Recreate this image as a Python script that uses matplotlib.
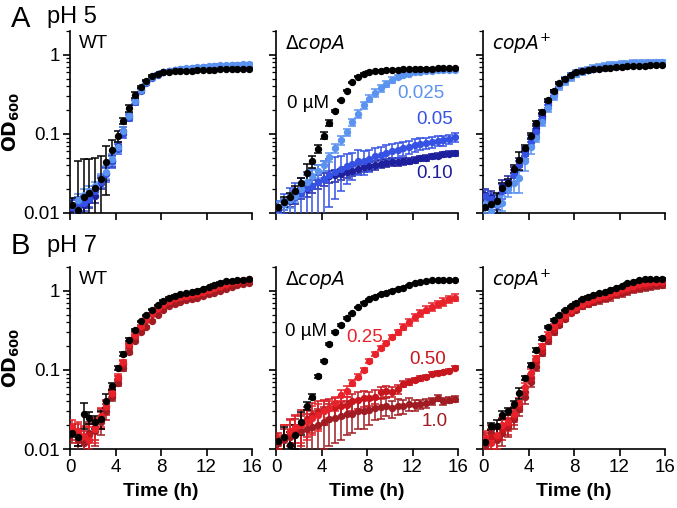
import matplotlib
matplotlib.use("Agg")
import matplotlib.pyplot as plt
from matplotlib.ticker import LogLocator, NullFormatter, FixedLocator

plt.rcParams['font.family'] = ['Liberation Sans', 'DejaVu Sans']

# sampling times (h)
time_h = [0.2, 0.7, 1.2, 1.7, 2.2, 2.7, 3.2, 3.7, 4.2, 4.7, 5.2, 5.7, 6.2, 6.7, 7.2, 7.7,
          8.2, 8.7, 9.2, 9.7, 10.2, 10.7, 11.2, 11.7, 12.2, 12.7, 13.2, 13.7, 14.2, 14.7, 15.2, 15.7]

# ---------------- pH 5 ----------------
wt5_0 = [0.0125, 0.011, 0.016, 0.018, 0.021, 0.027, 0.044, 0.063, 0.095, 0.145, 0.21, 0.31, 0.39, 0.47, 0.54, 0.57,
         0.60, 0.61, 0.62, 0.62, 0.63, 0.63, 0.64, 0.64, 0.65, 0.65, 0.66, 0.66, 0.66, 0.67, 0.67, 0.67]
wt5_0_err = [0.003, 0.034, 0.032, 0.030, 0.028, 0.026, 0.027, 0.020, 0.015, 0.012, 0.020, 0.025, 0.01, 0.01, 0.01, 0.01,
             0.01, 0.01, 0.01, 0.01, 0.01, 0.01, 0.01, 0.01, 0.01, 0.01, 0.01, 0.01, 0.01, 0.01, 0.01, 0.01]
wt5_lo = [0.0125, 0.0145, 0.017, 0.019, 0.022, 0.027, 0.033, 0.048, 0.068, 0.11, 0.17, 0.26, 0.36, 0.45, 0.52, 0.57,
          0.61, 0.63, 0.65, 0.67, 0.68, 0.69, 0.70, 0.71, 0.72, 0.73, 0.74, 0.74, 0.75, 0.75, 0.76, 0.76]
wt5_mid = [0.012, 0.013, 0.0135, 0.015, 0.019, 0.025, 0.031, 0.045, 0.065, 0.10, 0.16, 0.25, 0.35, 0.44, 0.51, 0.56,
           0.60, 0.63, 0.65, 0.66, 0.67, 0.68, 0.69, 0.70, 0.71, 0.72, 0.73, 0.73, 0.74, 0.74, 0.75, 0.75]
wt5_hi = [0.0115, 0.0105, 0.0125, 0.0145, 0.0165, 0.024, 0.032, 0.046, 0.07, 0.11, 0.17, 0.26, 0.36, 0.45, 0.52, 0.57,
          0.60, 0.62, 0.64, 0.65, 0.66, 0.67, 0.68, 0.69, 0.70, 0.70, 0.71, 0.71, 0.72, 0.72, 0.73, 0.73]
wt5_c_err = [0.003, 0.003, 0.003, 0.003, 0.003, 0.004, 0.006, 0.008, 0.010, 0.012, 0.015, 0.02, 0.02, 0.02, 0.02, 0.02,
             0.02, 0.02, 0.02, 0.02, 0.02, 0.02, 0.02, 0.02, 0.02, 0.02, 0.02, 0.02, 0.02, 0.02, 0.02, 0.02]

dc5_0 = [0.0118, 0.0138, 0.016, 0.019, 0.024, 0.032, 0.045, 0.065, 0.095, 0.138, 0.194, 0.265, 0.35, 0.45, 0.53, 0.58,
         0.61, 0.62, 0.63, 0.64, 0.645, 0.65, 0.655, 0.66, 0.66, 0.665, 0.67, 0.67, 0.675, 0.675, 0.68, 0.68]
dc5_0_err = [0.001, 0.002, 0.002, 0.003, 0.004, 0.010, 0.008, 0.008, 0.010, 0.012, 0.006, 0.006, 0.006, 0.006, 0.006, 0.006,
             0.006, 0.006, 0.006, 0.006, 0.006, 0.006, 0.006, 0.006, 0.006, 0.006, 0.006, 0.006, 0.006, 0.006, 0.006, 0.006]
dc5_lo = [0.0118, 0.013, 0.0146, 0.0166, 0.020, 0.025, 0.029, 0.034, 0.040, 0.051, 0.066, 0.083, 0.105, 0.14, 0.18, 0.23,
          0.28, 0.33, 0.38, 0.43, 0.48, 0.52, 0.55, 0.58, 0.60, 0.61, 0.62, 0.63, 0.635, 0.64, 0.645, 0.65]
dc5_lo_err = [0.002, 0.002, 0.003, 0.003, 0.004, 0.005, 0.006, 0.006, 0.006, 0.007, 0.008, 0.010, 0.012, 0.015, 0.02, 0.025,
              0.03, 0.035, 0.04, 0.04, 0.04, 0.03, 0.03, 0.02, 0.02, 0.015, 0.015, 0.015, 0.015, 0.015, 0.015, 0.015]
dc5_mid = [0.012, 0.0136, 0.015, 0.016, 0.018, 0.021, 0.022, 0.025, 0.027, 0.030, 0.033, 0.036, 0.039, 0.042, 0.046, 0.045,
           0.048, 0.052, 0.054, 0.058, 0.061, 0.063, 0.066, 0.069, 0.072, 0.075, 0.076, 0.079, 0.082, 0.083, 0.086, 0.091]
dc5_mid_err = [0.002, 0.004, 0.006, 0.008, 0.010, 0.012, 0.014, 0.016, 0.018, 0.018, 0.018, 0.017, 0.016, 0.016, 0.016, 0.015,
               0.015, 0.015, 0.014, 0.014, 0.014, 0.013, 0.013, 0.013, 0.013, 0.013, 0.012, 0.012, 0.012, 0.012, 0.012, 0.012]
dc5_hi = [0.0115, 0.013, 0.014, 0.016, 0.018, 0.020, 0.022, 0.025, 0.027, 0.029, 0.030, 0.031, 0.033, 0.034, 0.036, 0.038,
          0.039, 0.040, 0.042, 0.043, 0.044, 0.044, 0.045, 0.046, 0.047, 0.049, 0.050, 0.052, 0.053, 0.055, 0.056, 0.057]
dc5_hi_err = [0.001, 0.002, 0.002, 0.003, 0.003, 0.004, 0.004, 0.005, 0.005, 0.005, 0.005, 0.005, 0.005, 0.005, 0.005, 0.005,
              0.005, 0.005, 0.005, 0.005, 0.005, 0.005, 0.005, 0.004, 0.004, 0.004, 0.004, 0.004, 0.004, 0.004, 0.004, 0.004]

cp5_0 = [0.0118, 0.013, 0.014, 0.021, 0.024, 0.036, 0.047, 0.066, 0.095, 0.137, 0.19, 0.265, 0.35, 0.44, 0.50, 0.55,
         0.60, 0.62, 0.64, 0.66, 0.67, 0.68, 0.69, 0.70, 0.71, 0.72, 0.72, 0.73, 0.73, 0.74, 0.74, 0.75]
cp5_0_err = [0.001, 0.002, 0.004, 0.003, 0.003, 0.004, 0.012, 0.006, 0.008, 0.01, 0.01, 0.01, 0.01, 0.01, 0.01, 0.01,
             0.01, 0.01, 0.01, 0.01, 0.01, 0.01, 0.01, 0.01, 0.01, 0.01, 0.01, 0.01, 0.01, 0.01, 0.01, 0.01]
cp5_lo = [0.013, 0.0105, 0.013, 0.0135, 0.020, 0.024, 0.028, 0.046, 0.068, 0.09, 0.14, 0.21, 0.30, 0.40, 0.47, 0.53,
          0.58, 0.62, 0.65, 0.68, 0.70, 0.72, 0.74, 0.75, 0.76, 0.77, 0.78, 0.78, 0.79, 0.79, 0.80, 0.80]
cp5_lo_err = [0.003, 0.002, 0.003, 0.003, 0.004, 0.006, 0.010, 0.012, 0.012, 0.012, 0.015, 0.02, 0.03, 0.04, 0.05, 0.06,
              0.06, 0.06, 0.06, 0.07, 0.07, 0.07, 0.07, 0.07, 0.07, 0.07, 0.07, 0.07, 0.07, 0.07, 0.07, 0.07]
cp5_mid = [0.0165, 0.015, 0.0125, 0.019, 0.022, 0.030, 0.040, 0.056, 0.080, 0.105, 0.155, 0.23, 0.32, 0.41, 0.48, 0.54,
           0.59, 0.62, 0.65, 0.67, 0.69, 0.71, 0.72, 0.73, 0.74, 0.75, 0.76, 0.77, 0.77, 0.78, 0.78, 0.79]
cp5_hi = [0.017, 0.016, 0.014, 0.022, 0.025, 0.033, 0.044, 0.060, 0.088, 0.12, 0.17, 0.25, 0.33, 0.42, 0.49, 0.55,
          0.59, 0.62, 0.64, 0.66, 0.68, 0.69, 0.70, 0.71, 0.72, 0.73, 0.74, 0.74, 0.75, 0.75, 0.76, 0.76]
cp5_c_err = [0.003, 0.003, 0.003, 0.004, 0.004, 0.005, 0.006, 0.008, 0.010, 0.012, 0.015, 0.02, 0.03, 0.03, 0.04, 0.04,
             0.04, 0.04, 0.04, 0.04, 0.04, 0.04, 0.04, 0.04, 0.04, 0.04, 0.04, 0.04, 0.04, 0.04, 0.04, 0.04]

# ---------------- pH 7 ----------------
wt7_0 = [0.016, 0.014, 0.028, 0.025, 0.022, 0.024, 0.041, 0.062, 0.105, 0.16, 0.24, 0.32, 0.41, 0.49, 0.58, 0.66,
         0.75, 0.82, 0.865, 0.91, 0.94, 0.97, 1.0, 1.05, 1.12, 1.2, 1.27, 1.32, 1.35, 1.37, 1.38, 1.39]
wt7_0_err = [0.002, 0.003, 0.010, 0.004, 0.004, 0.006, 0.008, 0.006, 0.006, 0.008, 0.01, 0.01, 0.01, 0.01, 0.01, 0.01,
             0.01, 0.01, 0.01, 0.01, 0.01, 0.01, 0.01, 0.01, 0.01, 0.01, 0.01, 0.01, 0.01, 0.01, 0.01, 0.01]
wt7_lo = [0.019, 0.017, 0.0145, 0.013, 0.018, 0.026, 0.035, 0.051, 0.082, 0.127, 0.21, 0.28, 0.36, 0.44, 0.52, 0.60,
          0.68, 0.75, 0.80, 0.84, 0.87, 0.90, 0.93, 0.97, 1.02, 1.08, 1.15, 1.22, 1.28, 1.32, 1.36, 1.40]
wt7_mid = [0.017, 0.016, 0.014, 0.015, 0.019, 0.025, 0.034, 0.049, 0.078, 0.12, 0.20, 0.27, 0.35, 0.43, 0.51, 0.59,
           0.67, 0.74, 0.79, 0.83, 0.86, 0.89, 0.92, 0.96, 1.01, 1.07, 1.13, 1.20, 1.26, 1.30, 1.34, 1.37]
wt7_hi = [0.016, 0.013, 0.012, 0.016, 0.017, 0.022, 0.030, 0.046, 0.069, 0.105, 0.17, 0.235, 0.30, 0.345, 0.42, 0.49,
          0.57, 0.64, 0.69, 0.73, 0.76, 0.79, 0.82, 0.85, 0.90, 0.95, 1.0, 1.06, 1.12, 1.18, 1.23, 1.27]
wt7_c_err = [0.004, 0.005, 0.005, 0.006, 0.006, 0.007, 0.007, 0.006, 0.006, 0.008, 0.01, 0.01, 0.01, 0.01, 0.01, 0.01,
             0.02, 0.02, 0.02, 0.02, 0.02, 0.02, 0.02, 0.02, 0.02, 0.02, 0.03, 0.03, 0.03, 0.03, 0.03, 0.03]

dc7_0 = [0.0125, 0.014, 0.0113, 0.015, 0.022, 0.035, 0.046, 0.083, 0.13, 0.21, 0.30, 0.37, 0.45, 0.52, 0.62, 0.71,
         0.78, 0.84, 0.91, 0.95, 1.0, 1.05, 1.10, 1.17, 1.24, 1.30, 1.34, 1.36, 1.37, 1.37, 1.37, 1.37]
dc7_0_err = [0.001, 0.005, 0.005, 0.005, 0.007, 0.004, 0.003, 0.004, 0.005, 0.006, 0.01, 0.01, 0.01, 0.01, 0.01, 0.01,
             0.01, 0.01, 0.01, 0.01, 0.01, 0.01, 0.01, 0.01, 0.01, 0.01, 0.01, 0.01, 0.01, 0.01, 0.01, 0.01]
dc7_lo = [0.013, 0.014, 0.017, 0.019, 0.020, 0.022, 0.025, 0.027, 0.030, 0.033, 0.038, 0.048, 0.054, 0.068, 0.082, 0.10,
          0.13, 0.16, 0.19, 0.22, 0.26, 0.30, 0.35, 0.40, 0.46, 0.52, 0.58, 0.63, 0.68, 0.73, 0.78, 0.82]
dc7_lo_err = [0.002, 0.006, 0.006, 0.007, 0.008, 0.009, 0.010, 0.010, 0.010, 0.008, 0.008, 0.007, 0.008, 0.006, 0.006, 0.006,
              0.008, 0.01, 0.01, 0.01, 0.015, 0.02, 0.03, 0.04, 0.05, 0.06, 0.06, 0.07, 0.07, 0.08, 0.08, 0.08]
dc7_mid = [0.013, 0.014, 0.016, 0.018, 0.021, 0.024, 0.027, 0.029, 0.031, 0.033, 0.034, 0.035, 0.036, 0.040, 0.042, 0.044,
           0.044, 0.046, 0.052, 0.054, 0.053, 0.057, 0.066, 0.071, 0.075, 0.078, 0.082, 0.088, 0.091, 0.093, 0.098, 0.107]
dc7_mid_err = [0.003, 0.006, 0.008, 0.009, 0.010, 0.010, 0.011, 0.011, 0.011, 0.010, 0.010, 0.010, 0.010, 0.010, 0.010, 0.010,
               0.009, 0.009, 0.009, 0.008, 0.008, 0.008, 0.006, 0.006, 0.005, 0.005, 0.005, 0.005, 0.005, 0.005, 0.005, 0.005]
dc7_hi = [0.012, 0.013, 0.014, 0.016, 0.017, 0.018, 0.019, 0.020, 0.022, 0.024, 0.025, 0.026, 0.028, 0.028, 0.030, 0.030,
          0.031, 0.033, 0.034, 0.035, 0.033, 0.035, 0.035, 0.037, 0.036, 0.037, 0.038, 0.040, 0.044, 0.040, 0.042, 0.043]
dc7_hi_err = [0.002, 0.005, 0.006, 0.008, 0.009, 0.010, 0.011, 0.012, 0.012, 0.013, 0.013, 0.013, 0.013, 0.012, 0.012, 0.012,
              0.011, 0.010, 0.010, 0.009, 0.008, 0.008, 0.007, 0.007, 0.006, 0.005, 0.005, 0.004, 0.004, 0.004, 0.004, 0.004]

cp7_0 = [0.0121, 0.0196, 0.0194, 0.027, 0.030, 0.037, 0.051, 0.0785, 0.116, 0.18, 0.25, 0.345, 0.43, 0.49, 0.57, 0.64,
         0.705, 0.78, 0.84, 0.88, 0.925, 0.97, 1.02, 1.07, 1.145, 1.24, 1.30, 1.36, 1.39, 1.40, 1.42, 1.43]
cp7_0_err = [0.001, 0.002, 0.004, 0.003, 0.003, 0.004, 0.008, 0.005, 0.006, 0.01, 0.01, 0.01, 0.01, 0.01, 0.01, 0.01,
             0.01, 0.01, 0.01, 0.01, 0.01, 0.01, 0.01, 0.01, 0.01, 0.01, 0.01, 0.01, 0.01, 0.01, 0.01, 0.01]
cp7_lo = [0.014, 0.012, 0.015, 0.020, 0.022, 0.028, 0.038, 0.060, 0.092, 0.14, 0.20, 0.28, 0.36, 0.43, 0.50, 0.57,
          0.63, 0.69, 0.74, 0.79, 0.84, 0.88, 0.93, 0.98, 1.04, 1.10, 1.16, 1.21, 1.25, 1.28, 1.30, 1.32]
cp7_mid = [0.013, 0.014, 0.014, 0.018, 0.020, 0.026, 0.035, 0.052, 0.080, 0.125, 0.18, 0.25, 0.33, 0.40, 0.47, 0.54,
           0.60, 0.66, 0.71, 0.76, 0.80, 0.84, 0.89, 0.94, 1.0, 1.05, 1.10, 1.15, 1.19, 1.22, 1.24, 1.26]
cp7_hi = [0.011, 0.016, 0.013, 0.016, 0.019, 0.024, 0.032, 0.045, 0.070, 0.11, 0.165, 0.23, 0.30, 0.37, 0.44, 0.52,
          0.58, 0.64, 0.69, 0.73, 0.77, 0.81, 0.85, 0.90, 0.95, 1.0, 1.05, 1.09, 1.12, 1.15, 1.17, 1.20]
cp7_c_err = [0.003, 0.004, 0.005, 0.005, 0.005, 0.006, 0.006, 0.008, 0.010, 0.012, 0.015, 0.02, 0.02, 0.02, 0.03, 0.03,
             0.04, 0.05, 0.06, 0.07, 0.08, 0.09, 0.10, 0.10, 0.11, 0.11, 0.12, 0.12, 0.12, 0.12, 0.12, 0.12]

c_black = '#000000'
blues = ['#5b93f0', '#3552e4', '#1d1f9c']
reds = ['#e8222a', '#c8161e', '#a01c22']

# (label, row, col, [(values, err, colour) drawn in order])
panels = [
    ('WT', 0, 0, [(wt5_hi, wt5_c_err, blues[2]), (wt5_mid, wt5_c_err, blues[1]), (wt5_lo, wt5_c_err, blues[0]), (wt5_0, wt5_0_err, c_black)]),
    (r'$\Delta$$\it{copA}$', 0, 1, [(dc5_hi, dc5_hi_err, blues[2]), (dc5_mid, dc5_mid_err, blues[1]), (dc5_lo, dc5_lo_err, blues[0]), (dc5_0, dc5_0_err, c_black)]),
    (r'$\it{copA}^{+}$', 0, 2, [(cp5_hi, cp5_c_err, blues[2]), (cp5_mid, cp5_c_err, blues[1]), (cp5_lo, cp5_lo_err, blues[0]), (cp5_0, cp5_0_err, c_black)]),
    ('WT', 1, 0, [(wt7_hi, wt7_c_err, reds[2]), (wt7_mid, wt7_c_err, reds[1]), (wt7_lo, wt7_c_err, reds[0]), (wt7_0, wt7_0_err, c_black)]),
    (r'$\Delta$$\it{copA}$', 1, 1, [(dc7_hi, dc7_hi_err, reds[2]), (dc7_mid, dc7_mid_err, reds[1]), (dc7_lo, dc7_lo_err, reds[0]), (dc7_0, dc7_0_err, c_black)]),
    (r'$\it{copA}^{+}$', 1, 2, [(cp7_hi, cp7_c_err, reds[2]), (cp7_mid, cp7_c_err, reds[1]), (cp7_lo, cp7_c_err, reds[0]), (cp7_0, cp7_0_err, c_black)]),
]

W, H = 677, 508
fig = plt.figure(figsize=(W / 100, H / 100), dpi=100)
lefts = [70, 276, 483]
tops = [31, 267]
aw, ah = 182, 182

def fx(px):
    return px / W

def fy(py):
    return 1 - py / H

for label, row, col, series in panels:
    ax = fig.add_axes([fx(lefts[col]), fy(tops[row] + ah), aw / W, ah / H])
    for vals, err, colour in series:
        ax.errorbar(time_h, vals, yerr=err, fmt='o', color=colour, ms=5.3, mec='none',
                    elinewidth=1.1, capsize=2.6, capthick=1.1, zorder=3)
    ax.set_yscale('log')
    ax.set_ylim(0.01, 2)
    ax.set_xlim(0, 16)
    ax.xaxis.set_major_locator(FixedLocator([0, 4, 8, 12, 16]))
    ax.yaxis.set_major_locator(FixedLocator([0.01, 0.1, 1]))
    ax.yaxis.set_minor_locator(LogLocator(base=10, subs=range(2, 10)))
    ax.yaxis.set_minor_formatter(NullFormatter())
    for s in ['top', 'right']:
        ax.spines[s].set_visible(False)
    for s in ['left', 'bottom']:
        ax.spines[s].set_linewidth(1.2)
    ax.tick_params(axis='both', which='major', length=5, width=1.2, labelsize=13.5, pad=2)
    ax.tick_params(axis='y', which='minor', length=3, width=0.9)
    if col == 0:
        ax.set_yticklabels(['0.01', '0.1', '1'])
        ax.set_ylabel(r'$\mathbf{OD_{600}}$', fontsize=13.5, labelpad=1)
    else:
        ax.set_yticklabels([])
    if row == 1:
        ax.set_xticklabels(['0', '4', '8', '12', '16'])
        ax.set_xlabel('Time (h)', fontsize=14, fontweight='bold', labelpad=5)
    else:
        ax.set_xticklabels([])
    ax.text(0.05, 0.93, label, transform=ax.transAxes, fontsize=13.5, ha='left', va='center')

# panel letters and pH titles
fig.text(fx(11), fy(19), 'A', fontsize=21, ha='left', va='center')
fig.text(fx(47), fy(17), 'pH 5', fontsize=17, ha='left', va='center')
fig.text(fx(11), fy(246), 'B', fontsize=21, ha='left', va='center')
fig.text(fx(47), fy(246), 'pH 7', fontsize=17, ha='left', va='center')

# concentration labels
fig.text(fx(287), fy(103), '0 \u00b5M', fontsize=13.5, color=c_black, ha='left', va='center')
fig.text(fx(444), fy(94), '0.025', fontsize=13.5, color=blues[0], ha='right', va='center')
fig.text(fx(453), fy(120), '0.05', fontsize=13.5, color=blues[1], ha='right', va='center')
fig.text(fx(453), fy(173), '0.10', fontsize=13.5, color=blues[2], ha='right', va='center')
fig.text(fx(285), fy(331), '0 \u00b5M', fontsize=13.5, color=c_black, ha='left', va='center')
fig.text(fx(346), fy(338), '0.25', fontsize=13.5, color=reds[0], ha='left', va='center')
fig.text(fx(446), fy(360), '0.50', fontsize=13.5, color=reds[1], ha='right', va='center')
fig.text(fx(448), fy(421), '1.0', fontsize=13.5, color=reds[2], ha='right', va='center')

fig.savefig('out.png', dpi=100)
